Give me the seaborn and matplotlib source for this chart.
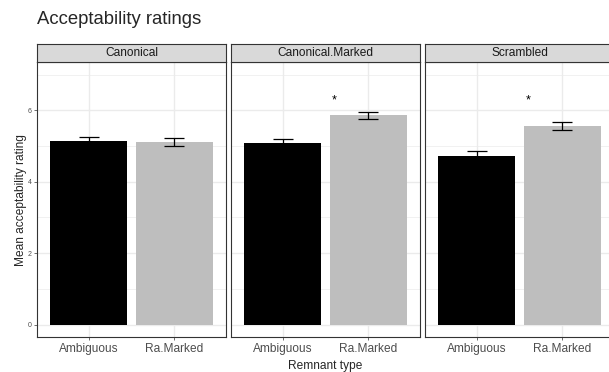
import numpy as np
import pandas as pd
import matplotlib
matplotlib.use("Agg")
import matplotlib.pyplot as plt
import seaborn as sns

# Mean ratings and standard errors by word order and remnant type
orders = ["Canonical", "Canonical.Marked", "Scrambled"]
remnants = ["Ambiguous", "Ra.Marked"]
means_ambiguous = [5.14, 5.07, 4.72]
means_ra_marked = [5.11, 5.86, 5.56]
se_ambiguous = [0.11, 0.13, 0.13]
se_ra_marked = [0.12, 0.10, 0.10]
significant = [False, True, True]
star_height = 6.27
y_ticks = [0, 2, 4, 6]

rows = []
for i, o in enumerate(orders):
    rows.append(dict(order=o, remnant="Ambiguous", mean=means_ambiguous[i], se=se_ambiguous[i]))
    rows.append(dict(order=o, remnant="Ra.Marked", mean=means_ra_marked[i], se=se_ra_marked[i]))
df = pd.DataFrame(rows)

sns.set_theme(style="white")
plt.rcParams["font.family"] = ["Liberation Sans", "DejaVu Sans"]

W, H = 609, 372
fig = plt.figure(figsize=(W / 100, H / 100), dpi=100)

panel_x = [(37, 226), (231, 420), (425, 614)]
panel_top, panel_bot = 62, 337
strip_top = 44
palette = {"Ambiguous": "#000000", "Ra.Marked": "#BEBEBE"}

def fx(px):
    return px / W

def fy(py):
    return 1 - py / H

for i, o in enumerate(orders):
    x0, x1 = panel_x[i]
    ax = fig.add_axes([fx(x0), fy(panel_bot), fx(x1 - x0), (panel_bot - panel_top) / H])
    sub = df[df["order"] == o]
    # grid
    for yv in [0, 1, 2, 3, 4, 5, 6, 7]:
        ax.axhline(yv, color="#EBEBEB", lw=1.0 if yv % 2 == 0 else 0.5, zorder=0)
    for xv in [0, 1]:
        ax.axvline(xv, color="#EBEBEB", lw=1.0, zorder=0)
    sns.barplot(data=sub, x="remnant", y="mean", hue="remnant", palette=palette,
                order=remnants, hue_order=remnants, width=0.9, dodge=False,
                legend=False, errorbar=None, ax=ax, zorder=2, saturation=1,
                linewidth=0)
    for j, r in enumerate(remnants):
        row = sub[sub["remnant"] == r].iloc[0]
        ax.errorbar(j, row["mean"], yerr=row["se"], fmt="none", ecolor="black",
                    elinewidth=0.9, capsize=7.5, capthick=0.9, zorder=3)
    if significant[i]:
        ax.text(0.6, star_height, "*", ha="center", va="center", fontsize=9, color="black")
    ax.set_ylim(-0.35, 7.35)
    ax.set_xlim(-0.6, 1.6)
    ax.set_xlabel("")
    ax.set_ylabel("")
    ax.set_yticks(y_ticks)
    if i == 0:
        ax.set_yticklabels([str(t) for t in y_ticks], fontsize=5, color="#4D4D4D")
        ax.tick_params(axis="y", length=2.5, width=0.5, color="#333333", pad=1.5, left=True)
    else:
        ax.set_yticklabels([])
        ax.tick_params(axis="y", length=0)
    ax.tick_params(axis="x", labelsize=8.6, labelcolor="#4D4D4D", length=2.5, width=0.5,
                   color="#333333", pad=1.5, bottom=True)
    for s in ax.spines.values():
        s.set_color("#333333")
        s.set_linewidth(0.8)
    # facet strip
    sax = fig.add_axes([fx(x0), fy(panel_top), fx(x1 - x0), (panel_top - strip_top) / H])
    sax.set_facecolor("#D9D9D9")
    sax.set_xticks([])
    sax.set_yticks([])
    for s in sax.spines.values():
        s.set_color("#333333")
        s.set_linewidth(0.8)
    sax.text(0.5, 0.5, o, ha="center", va="center", fontsize=8.6, color="#1A1A1A",
             transform=sax.transAxes)

fig.text(fx(37), fy(20), "Acceptability ratings", fontsize=13.3, ha="left", va="center")
fig.text(fx(325), fy(366), "Remnant type", fontsize=8.6, ha="center", va="center")
fig.text(fx(21), fy(200), "Mean acceptability rating", fontsize=8.6, ha="center",
         va="center", rotation=90)

fig.savefig("out.png", dpi=100, facecolor="white")
